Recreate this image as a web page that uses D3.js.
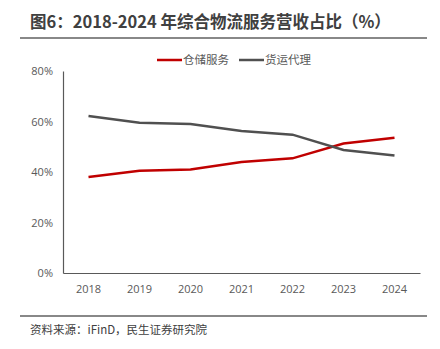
<!DOCTYPE html>
<html>
<head>
<meta charset="utf-8">
<script src="https://cdn.jsdelivr.net/npm/d3@7"></script>
<style>
body { margin:0; background:#fff; }
svg text { font-family: "Noto Sans CJK SC", "Noto Sans", sans-serif; }
</style>
</head>
<body>
<svg id="chart" width="440" height="349"></svg>
<script>
var years = ["2018","2019","2020","2021","2022","2023","2024"]
var storage = [38.0, 40.5, 41.0, 44.0, 45.4, 51.3, 53.6]
var forwarding = [62.2, 59.5, 59.0, 56.2, 54.8, 48.7, 46.5]
var yTicks = [0, 20, 40, 60, 80]
var seriesNames = ["仓储服务", "货运代理"]
var seriesColors = ["#c00000", "#505050"]

var svg = d3.select("#chart")
var margin = {left:63, right:20, top:71, bottom:76}
var graph = {width:440-margin.left-margin.right, height:349-margin.top-margin.bottom}

// title + rules
svg.append("text")
    .attr("x", 30).attr("y", 28)
    .style("font-size", "16.5px").style("font-weight", "bold")
    .style("fill", "#404040")
    .text("图6：2018-2024 年综合物流服务营收占比（%）")
svg.append("line").attr("x1",20).attr("x2",427).attr("y1",38).attr("y2",38)
    .attr("stroke","#606060").attr("stroke-width",1.5)
svg.append("line").attr("x1",20).attr("x2",427).attr("y1",316).attr("y2",316)
    .attr("stroke","#606060").attr("stroke-width",1.5)
svg.append("text")
    .attr("x", 30).attr("y", 334)
    .style("font-size", "11.5px").style("fill", "#404040")
    .text("资料来源：iFinD，民生证券研究院")

var xScale = d3.scaleBand().domain(years).range([0, graph.width])
var yScale = d3.scaleLinear().domain([0, 80]).range([graph.height, 0])

var g = svg.append("g").attr("transform", "translate("+margin.left+","+margin.top+")")

var xAxis = g.append("g").attr("transform", "translate(0,"+graph.height+")")
    .call(d3.axisBottom(xScale).tickSize(0).tickPadding(12))
var yAxis = g.append("g")
    .call(d3.axisLeft(yScale).tickValues(yTicks).tickSize(0).tickPadding(10).tickFormat(d => d + "%"))
svg.selectAll(".domain").attr("stroke", "#595959").attr("stroke-width", 1.2)
svg.selectAll(".tick text").style("font-size", "11px").style("fill", "#595959")
    .style("font-family", "'Open Sans', 'Noto Sans', sans-serif")

var line = d3.line()
    .x((d, i) => xScale(years[i]) + xScale.bandwidth()/2)
    .y(d => yScale(d))

;[storage, forwarding].forEach(function(s, k) {
    g.append("path").datum(s)
        .attr("fill", "none")
        .attr("stroke", seriesColors[k])
        .attr("stroke-width", 2.5)
        .attr("d", line)
})

// legend
var legX = [157, 239]
seriesNames.forEach(function(name, k) {
    svg.append("line").attr("x1", legX[k]).attr("x2", legX[k]+25)
        .attr("y1", 60).attr("y2", 60)
        .attr("stroke", seriesColors[k]).attr("stroke-width", 2.5)
    svg.append("text").attr("x", legX[k]+26).attr("y", 64)
        .style("font-size", "11.5px").style("fill", "#595959")
        .text(name)
})
</script>
</body>
</html>
